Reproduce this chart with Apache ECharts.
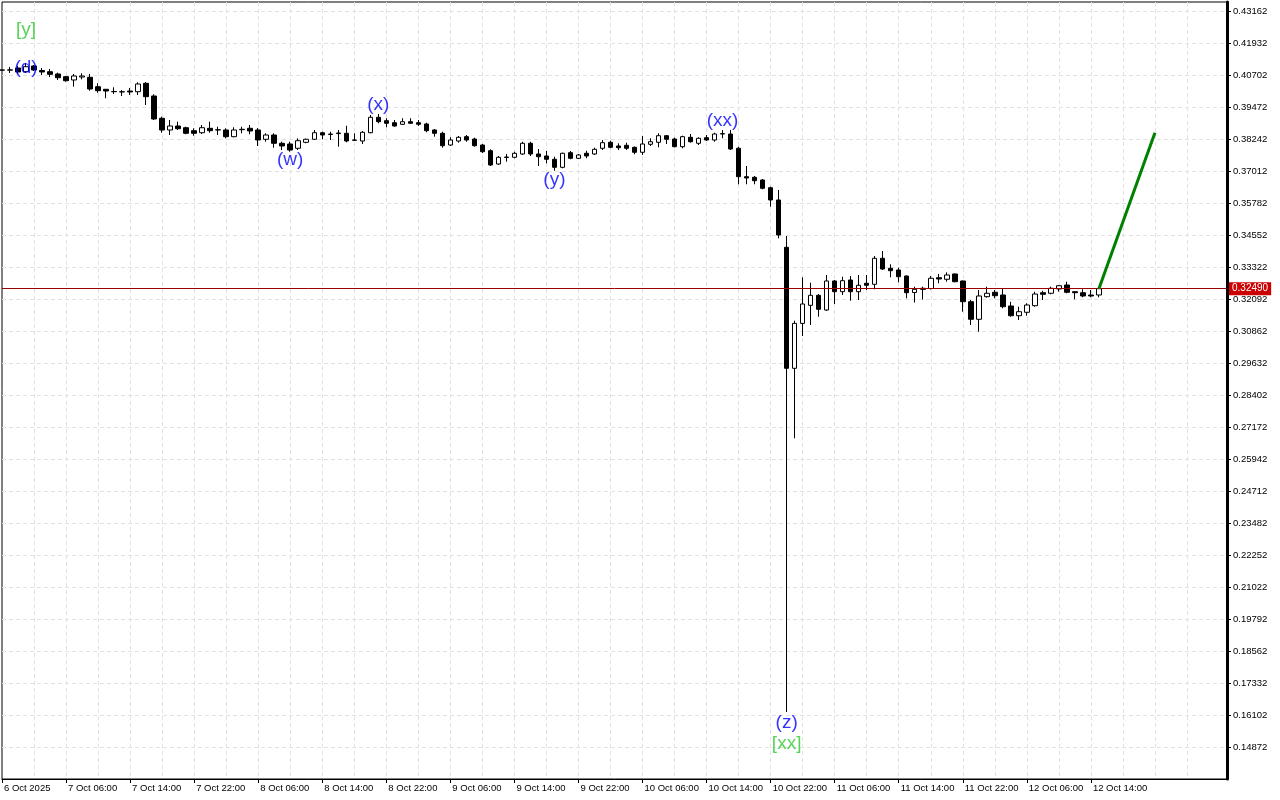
<!DOCTYPE html>
<html>
<head>
<meta charset="utf-8">
<script src="https://cdn.jsdelivr.net/npm/echarts@6/dist/echarts.min.js"></script>
<style>
html,body{margin:0;padding:0;background:#fff;}
#chart{width:1280px;height:800px;}
</style>
</head>
<body>
<div id="chart"></div>
<script>
// ---- Data (H1 candles, 6 Oct 2025 22:00 -> 12 Oct 2025 15:00) ----
const open = [
0.40890,0.40890,0.40971,0.40829,0.41048,0.40875,0.40829,0.40741,0.40637,0.40510,
0.40625,0.40614,0.40252,0.40153,0.40070,0.40050,0.40087,0.40060,0.40383,0.39895,
0.39038,0.38588,0.38742,0.38676,0.38561,0.38484,0.38654,0.38588,0.38588,0.38331,
0.38600,0.38654,0.38588,0.38231,0.38396,0.38077,0.38050,0.37885,0.38115,0.38231,
0.38484,0.38434,0.38473,0.38461,0.38204,0.38165,0.38484,0.39076,0.38946,0.38869,
0.38807,0.38907,0.38869,0.38819,0.38588,0.38461,0.38011,0.38165,0.38331,0.38242,
0.38011,0.37792,0.37281,0.37531,0.37539,0.37666,0.38077,0.37666,0.37589,0.37462,
0.37154,0.37716,0.37500,0.37693,0.37666,0.37885,0.38115,0.37973,0.38000,0.37923,
0.37731,0.38039,0.38115,0.38369,0.38242,0.37946,0.38308,0.38077,0.38292,0.38204,
0.38434,0.38434,0.37885,0.36793,0.36770,0.36666,0.36370,0.35898,0.34079,0.29428,
0.31155,0.31850,0.32234,0.31669,0.32784,0.32373,0.32822,0.32373,0.32696,0.32657,
0.33656,0.33272,0.33207,0.32976,0.32342,0.32503,0.32496,0.32911,0.32850,0.33053,
0.32784,0.31988,0.31312,0.32181,0.32350,0.32246,0.31823,0.31450,0.31581,0.31835,
0.32334,0.32312,0.32477,0.32630,0.32373,0.32334,0.32246,0.32246];
const close = [
0.40894,0.40900,0.40818,0.41021,0.40894,0.40818,0.40729,0.40598,0.40483,0.40664,
0.40664,0.40164,0.40099,0.40087,0.40060,0.40060,0.40049,0.40356,0.39868,0.39011,
0.38588,0.38742,0.38638,0.38461,0.38461,0.38676,0.38561,0.38600,0.38331,0.38588,
0.38615,0.38550,0.38204,0.38396,0.38077,0.37973,0.37819,0.38177,0.38231,0.38484,
0.38396,0.38415,0.38450,0.38165,0.38192,0.38500,0.39076,0.38907,0.38846,0.38742,
0.38907,0.38846,0.38807,0.38561,0.38461,0.37985,0.38204,0.38308,0.38204,0.37985,
0.37754,0.37243,0.37539,0.37550,0.37693,0.38077,0.37666,0.37562,0.37462,0.37154,
0.37693,0.37500,0.37627,0.37589,0.37846,0.38100,0.37923,0.37908,0.37885,0.37731,
0.38050,0.38138,0.38369,0.38231,0.37946,0.38331,0.38138,0.38269,0.38204,0.38434,
0.38450,0.37858,0.36793,0.36743,0.36639,0.36347,0.35898,0.34552,0.29428,0.31155,
0.31900,0.32234,0.31696,0.32784,0.32373,0.32796,0.32373,0.32619,0.32619,0.33656,
0.33245,0.33180,0.32949,0.32334,0.32465,0.32465,0.32888,0.32861,0.33015,0.32757,
0.31988,0.31312,0.32208,0.32312,0.32219,0.31796,0.31450,0.31604,0.31861,0.32284,
0.32273,0.32503,0.32603,0.32350,0.32334,0.32208,0.32208,0.32490];
const low = [
0.40880,0.40779,0.40741,0.40779,0.40856,0.40702,0.40625,0.40510,0.40445,0.40253,
0.40537,0.40099,0.40022,0.39807,0.39972,0.39895,0.39934,0.39934,0.39549,0.38972,
0.38484,0.38396,0.38588,0.38423,0.38369,0.38434,0.38484,0.38396,0.38269,0.38308,
0.38461,0.38423,0.37973,0.38138,0.37908,0.37819,0.37754,0.37819,0.38077,0.38204,
0.38231,0.38204,0.37946,0.38115,0.38177,0.38050,0.38461,0.38846,0.38692,0.38715,
0.38780,0.38838,0.38742,0.38500,0.38331,0.37908,0.37973,0.38100,0.38138,0.37946,
0.37704,0.37204,0.37243,0.37370,0.37500,0.37627,0.37589,0.37204,0.37308,0.37024,
0.37116,0.37462,0.37473,0.37500,0.37627,0.37819,0.37885,0.37819,0.37819,0.37654,
0.37627,0.37973,0.37923,0.38050,0.37923,0.37885,0.38100,0.38011,0.38165,0.38138,
0.38269,0.37819,0.36501,0.36501,0.36501,0.36309,0.35640,0.34425,0.16218,0.26738,
0.30670,0.31093,0.31412,0.31631,0.31900,0.32246,0.32027,0.32054,0.32438,0.32465,
0.33207,0.32926,0.32734,0.32119,0.31958,0.32073,0.32457,0.32696,0.32757,0.32734,
0.31604,0.31093,0.30835,0.32142,0.32119,0.31735,0.31412,0.31285,0.31450,0.31796,
0.32054,0.32273,0.32373,0.32312,0.32081,0.32158,0.32158,0.32158];
const high = [
0.40900,0.41010,0.41048,0.41163,0.41087,0.40971,0.40933,0.40791,0.40664,0.40741,
0.40768,0.40741,0.40383,0.40164,0.40229,0.40126,0.40203,0.40421,0.40433,0.39960,
0.39099,0.38972,0.38907,0.38715,0.38654,0.38780,0.38907,0.38715,0.38654,0.38692,
0.38715,0.38780,0.38665,0.38461,0.38461,0.38138,0.38138,0.38269,0.38261,0.38588,
0.38523,0.38523,0.38588,0.38753,0.38461,0.38550,0.39165,0.39203,0.39038,0.38972,
0.39038,0.39038,0.38972,0.38869,0.38627,0.38523,0.38308,0.38358,0.38396,0.38292,
0.38050,0.37846,0.37589,0.37666,0.37754,0.38138,0.38138,0.37858,0.37781,0.37562,
0.37716,0.37781,0.37666,0.37792,0.37908,0.38204,0.38177,0.38077,0.38100,0.37954,
0.38358,0.38269,0.38461,0.38396,0.38292,0.38369,0.38434,0.38308,0.38396,0.38484,
0.38588,0.38588,0.37946,0.37204,0.36820,0.36705,0.36409,0.36282,0.34514,0.31258,
0.32926,0.32719,0.32284,0.33015,0.32822,0.32949,0.32976,0.33015,0.33015,0.33745,
0.33937,0.33426,0.33296,0.32995,0.32565,0.32565,0.32976,0.33053,0.33118,0.33072,
0.32803,0.32054,0.32438,0.32565,0.32438,0.32503,0.31988,0.31796,0.31927,0.32373,
0.32411,0.32565,0.32630,0.32757,0.32380,0.32465,0.32438,0.32490];

const timeTickLabels = ["6 Oct 2025","7 Oct 06:00","7 Oct 14:00","7 Oct 22:00","8 Oct 06:00",
  "8 Oct 14:00","8 Oct 22:00","9 Oct 06:00","9 Oct 14:00","9 Oct 22:00","10 Oct 06:00",
  "10 Oct 14:00","10 Oct 22:00","11 Oct 06:00","11 Oct 14:00","11 Oct 22:00","12 Oct 06:00","12 Oct 14:00"];
const barsPerLabel = 8;
const futureSlots = 16;

const bidPrice = 0.32490;
const projectionIdx = [137, 144];
const projectionPrice = [0.32490, 0.38480];

const waveText  = ["[y]", "(d)", "(w)", "(x)", "(y)", "(xx)", "(z)", "[xx]"];
const waveIdx   = [3, 3, 36, 47, 69, 90, 98, 98];
const wavePrice = [0.42432, 0.40971, 0.37435, 0.39549, 0.36666, 0.38934, 0.15795, 0.14988];

const yMin = 0.13642, yMax = 0.43508, yStep = 0.0123;

// ---- Build ----
const nSlots = open.length + futureSlots;
const categories = [];
for (let i = 0; i < nSlots; i++) categories.push(String(i));
const candleData = open.map((o, i) => [o, close[i], low[i], high[i]]);
const waveData = waveText.map((t, i) => ({
  value: [waveIdx[i], wavePrice[i]], name: t,
  label: { color: t.charAt(0) === '[' ? '#2ec82e' : '#0000ff' }
}));
const isLabelIdx = i => i % barsPerLabel === 0 && (i / barsPerLabel) < timeTickLabels.length;
const FONT = 'Liberation Sans, Arial, sans-serif';

const chart = echarts.init(document.getElementById('chart'), null, { renderer: 'canvas' });
chart.setOption({
  animation: false,
  backgroundColor: '#ffffff',
  grid: { left: 2, right: 53, top: 2, bottom: 21, show: true, borderColor: '#000', borderWidth: 1, backgroundColor: '#fff' },
  xAxis: {
    type: 'category', data: categories, boundaryGap: false,
    axisLine: { show: true, lineStyle: { color: '#000', width: 1 } },
    axisTick: { show: true, interval: (i) => isLabelIdx(i), length: 4, lineStyle: { color: '#000' } },
    axisLabel: {
      interval: (i) => isLabelIdx(i),
      formatter: (v, i) => timeTickLabels[Math.round(i / barsPerLabel)] || '',
      align: 'left', margin: 4, padding: [0, 0, 0, 2],
      color: '#000', fontSize: 9.5, fontFamily: FONT, hideOverlap: false
    },
    splitLine: { show: true, showMinLine: false, showMaxLine: false, interval: (i) => i % 4 === 0, lineStyle: { color: '#e2e2e2', type: [4, 3], width: 1 } }
  },
  yAxis: {
    type: 'value', position: 'right', scale: true,
    min: yMin, max: yMax, interval: yStep,
    axisLine: { show: true, lineStyle: { color: '#000', width: 3 } },
    axisTick: { show: true, length: 4, inside: false, lineStyle: { color: '#000' } },
    axisLabel: {
      showMinLabel: false, showMaxLabel: false, margin: 6,
      formatter: v => v.toFixed(5), color: '#000', fontSize: 9.5, fontFamily: FONT
    },
    splitLine: { show: true, showMinLine: false, showMaxLine: false, lineStyle: { color: '#e2e2e2', type: [4, 3], width: 1 } }
  },
  series: [
    {
      type: 'candlestick', data: candleData, barWidth: 5,
      itemStyle: { color: '#ffffff', color0: '#000000', borderColor: '#000000', borderColor0: '#000000', borderColorDoji: '#000000', borderWidth: 1 }
    },
    {
      type: 'line', data: projectionIdx.map((x, i) => [x, projectionPrice[i]]),
      symbol: 'none', lineStyle: { color: '#008000', width: 3 }, z: 5,
      markLine: {
        silent: true, symbol: ['none', 'none'], precision: 5,
        lineStyle: { color: '#9a0000', width: 1, type: 'solid' },
        label: {
          show: true, position: 'end', distance: 2,
          formatter: () => bidPrice.toFixed(5),
          color: '#fff', backgroundColor: '#cc0000', padding: [2, 3, 1, 3],
          fontSize: 10, fontFamily: FONT
        },
        data: [{ yAxis: bidPrice }]
      }
    },
    {
      type: 'scatter', data: waveData, symbolSize: 1,
      itemStyle: { color: 'rgba(0,0,0,0)' }, z: 6,
      label: {
        show: true, position: 'inside', formatter: p => p.name,
        fontSize: 19, fontFamily: FONT
      }
    }
  ]
});
</script>
</body>
</html>
